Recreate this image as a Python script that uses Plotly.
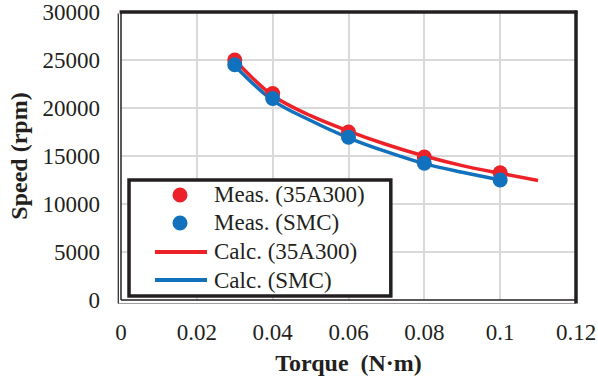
import plotly.graph_objects as go

torque_meas = [0.03, 0.04, 0.06, 0.08, 0.10]
speed_meas_35a300 = [25000, 21500, 17500, 14900, 13250]
speed_meas_smc = [24500, 21000, 16950, 14250, 12500]

torque_calc_35a300 = [0.03, 0.04, 0.05, 0.06, 0.07, 0.08, 0.09, 0.10, 0.11]
speed_calc_35a300 = [25000, 21300, 19200, 17600, 16200, 15000, 14000, 13200, 12450]
torque_calc_smc = [0.03, 0.04, 0.05, 0.06, 0.07, 0.08, 0.09, 0.10]
speed_calc_smc = [24400, 20800, 18700, 16900, 15450, 14200, 13300, 12500]

x_ticks = [0, 0.02, 0.04, 0.06, 0.08, 0.1, 0.12]
x_tick_text = ["0", "0.02", "0.04", "0.06", "0.08", "0.1", "0.12"]
y_ticks = [0, 5000, 10000, 15000, 20000, 25000, 30000]
y_tick_text = ["0", "5000", "10000", "15000", "20000", "25000", "30000"]

legend_labels = ["Meas. (35A300)", "Meas. (SMC)", "Calc. (35A300)", "Calc. (SMC)"]

RED = "#EC2228"
BLUE = "#1271BD"
INK = "#231F20"
FONT = "Liberation Serif, Times New Roman, serif"

fig = go.Figure()
fig.add_trace(go.Scatter(x=torque_calc_35a300, y=speed_calc_35a300, mode="lines",
                         name=legend_labels[2], line=dict(color=RED, width=3.5, shape="spline")))
fig.add_trace(go.Scatter(x=torque_calc_smc, y=speed_calc_smc, mode="lines",
                         name=legend_labels[3], line=dict(color=BLUE, width=3.5, shape="spline")))
fig.add_trace(go.Scatter(x=torque_meas, y=speed_meas_35a300, mode="markers",
                         name=legend_labels[0], marker=dict(color=RED, size=15)))
fig.add_trace(go.Scatter(x=torque_meas, y=speed_meas_smc, mode="markers",
                         name=legend_labels[1], marker=dict(color=BLUE, size=15)))

# frame shapes
shapes = [
    dict(type="line", xref="paper", yref="paper", x0=-0.006, x1=1.0, y0=-0.012, y1=-0.012,
         line=dict(color="#9A9A9A", width=1)),
    dict(type="line", xref="paper", yref="paper", x0=-0.006, x1=-0.006, y0=-0.012, y1=0.995,
         line=dict(color=INK, width=1.2)),
    dict(type="line", xref="paper", yref="paper", x0=0, x1=0, y0=0, y1=1,
         line=dict(color=INK, width=1.5)),
    dict(type="line", xref="paper", yref="paper", x0=0, x1=1, y0=0, y1=0,
         line=dict(color=INK, width=1.5)),
    dict(type="line", xref="paper", yref="paper", x0=-0.003, x1=1.003, y0=1, y1=1,
         line=dict(color=INK, width=3.5)),
    dict(type="line", xref="paper", yref="paper", x0=1, x1=1, y0=-0.012, y1=1.005,
         line=dict(color=INK, width=3.5)),
]

# legend box (drawn by hand for exact row spacing)
box_x0, box_x1, box_y0, box_y1 = 0.0176, 0.593, 0.0139, 0.4167
row_y = [0.3646, 0.2674, 0.1667, 0.0694]
sym_x, line_x0, line_x1, text_x = 0.1297, 0.0747, 0.189, 0.2
legend_colors = [RED, BLUE, RED, BLUE]
legend_kinds = ["marker", "marker", "line", "line"]

shapes.append(dict(type="rect", xref="paper", yref="paper", x0=box_x0, x1=box_x1,
                   y0=box_y0, y1=box_y1, fillcolor="white", line=dict(color=INK, width=3.5),
                   layer="above"))
annotations = []
for lab, col, kind, yy in zip(legend_labels, legend_colors, legend_kinds, row_y):
    if kind == "marker":
        shapes.append(dict(type="circle", xref="paper", yref="paper",
                           xsizemode="pixel", ysizemode="pixel", xanchor=sym_x, yanchor=yy,
                           x0=-7.5, x1=7.5, y0=-7.5, y1=7.5, fillcolor=col,
                           line=dict(color=col, width=0), layer="above"))
    else:
        shapes.append(dict(type="line", xref="paper", yref="paper", x0=line_x0, x1=line_x1,
                           y0=yy, y1=yy, line=dict(color=col, width=4), layer="above"))
    annotations.append(dict(xref="paper", yref="paper", x=text_x, y=yy, xanchor="left",
                            yanchor="middle", text=lab, showarrow=False,
                            font=dict(family=FONT, size=23, color=INK)))

fig.update_layout(
    width=598, height=376,
    margin=dict(l=121, r=22, t=12, b=76),
    paper_bgcolor="white", plot_bgcolor="white",
    font=dict(family=FONT, size=23, color=INK),
    showlegend=False,
    xaxis=dict(range=[0, 0.12], tickvals=x_ticks, ticktext=x_tick_text,
               showgrid=True, gridcolor="#D9D9D9", gridwidth=1.5, automargin=False,
               zeroline=False, showline=False, ticks="", ticklabelstandoff=16,
               tickfont=dict(family=FONT, size=23),
               title=dict(text="<b>Torque  (N·m)</b>", font=dict(family=FONT, size=24), standoff=10)),
    yaxis=dict(range=[0, 30000], tickvals=y_ticks, ticktext=y_tick_text,
               showgrid=True, gridcolor="#D9D9D9", gridwidth=1.5, automargin=False,
               zeroline=False, showline=False, ticks="", ticklabelstandoff=20,
               tickfont=dict(family=FONT, size=23),
               title=dict(text="<b>Speed (rpm)</b>", font=dict(family=FONT, size=24), standoff=8)),
    shapes=shapes,
    annotations=annotations,
)

fig.write_html("out.html")
